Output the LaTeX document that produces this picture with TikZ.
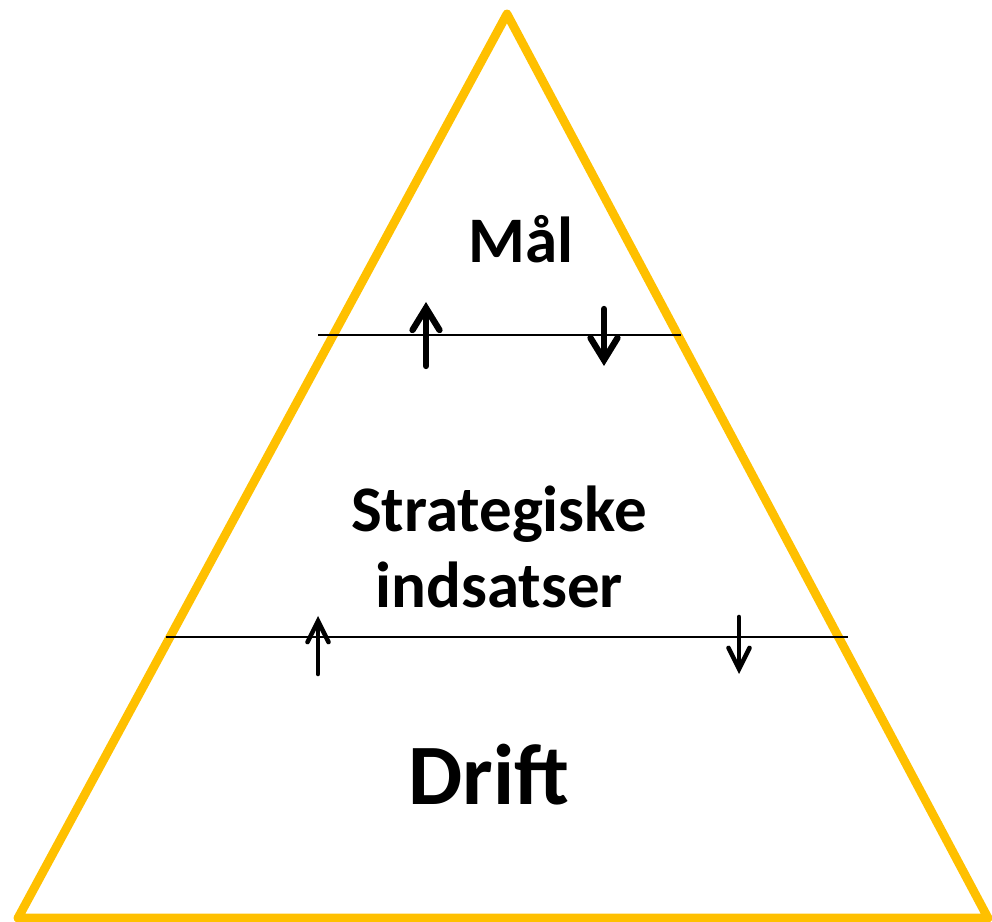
\documentclass[tikz,border=0pt]{standalone}
\usepackage{fontspec}
\setmainfont{Carlito}
\usetikzlibrary{arrows.meta}
\definecolor{pyramidgold}{RGB}{255,192,0}
\tikzset{
  pyramid/.style={draw=pyramidgold, line width=5pt, line join=round, line cap=round},
  divider/.style={draw=black, line width=1.1pt},
  flowbig/.style={line width=3.6pt, line cap=round, -{Straight Barb[length=0.44cm, width=0.54cm, line cap=round]}},
  flowsmall/.style={line width=2.6pt, line cap=round, -{Straight Barb[length=0.42cm, width=0.42cm, line cap=round]}},
  level/.style={font=\bfseries\fontsize{37}{43}\selectfont, align=center},
  base_level/.style={font=\bfseries\fontsize{49}{58}\selectfont}
}
\begin{document}
\begin{tikzpicture}[x=0.02cm, y=-0.02cm]
\useasboundingbox (0,0) rectangle (992,922);
% corners of the pyramid
\coordinate (apex) at (507,14);
\coordinate (bl) at (18,918);
\coordinate (br) at (988,918);
\draw[pyramid] (apex) -- (br) -- (bl) -- cycle;

% dividers
\coordinate (d1l) at (318,335);
\coordinate (d1r) at (681,335);
\coordinate (d2l) at (166,637);
\coordinate (d2r) at (848,637);
\draw[divider] (d1l) -- (d1r);
\draw[divider] (d2l) -- (d2r);

% arrows between levels
\coordinate (u1s) at (426,366);
\coordinate (u1e) at (426,302);
\coordinate (n1s) at (604,309);
\coordinate (n1e) at (604,366);
\coordinate (u2s) at (318,674);
\coordinate (u2e) at (318,616);
\coordinate (n2s) at (739,617);
\coordinate (n2e) at (739,674);
\draw[flowbig] (u1s) -- (u1e);
\draw[flowbig] (n1s) -- (n1e);
\draw[flowsmall] (u2s) -- (u2e);
\draw[flowsmall] (n2s) -- (n2e);

% levels
\node (maal) [level, anchor=base] at (521,263) {Mål};
\node (strat) [level] at (499,547) {Strategiske\\indsatser};
\node (drift) [base_level, anchor=base] at (489,805) {Drift};
\end{tikzpicture}
\end{document}
